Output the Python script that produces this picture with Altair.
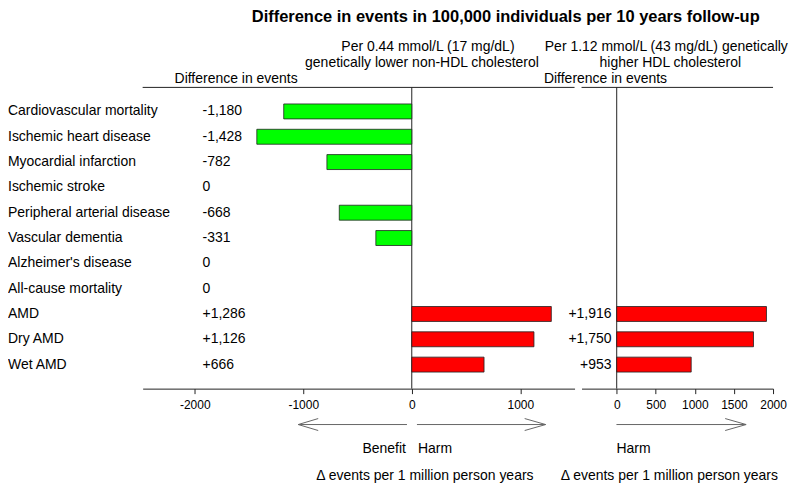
import altair as alt
import pandas as pd

labels = ["Cardiovascular mortality", "Ischemic heart disease", "Myocardial infarction",
          "Ischemic stroke", "Peripheral arterial disease", "Vascular dementia",
          "Alzheimer's disease", "All-cause mortality", "AMD", "Dry AMD", "Wet AMD"]
nonhdl = [-1180, -1428, -782, 0, -668, -331, 0, 0, 1286, 1126, 666]
hdl_labels = ["AMD", "Dry AMD", "Wet AMD"]
hdl = [1916, 1750, 953]
left_ticks = [-2000, -1000, 0, 1000]
right_ticks = [0, 500, 1000, 1500, 2000]

FONT = "Liberation Sans"
FS = 14
W1, W2, H = 433, 192, 302
LINE = "#222222"
ARROW = "#666666"

df1 = pd.DataFrame({"label": labels, "v": nonhdl})
df2 = pd.DataFrame({"label": hdl_labels, "v": hdl})

def yenc():
    return alt.Y("label:N", scale=alt.Scale(domain=labels, paddingInner=0.41, paddingOuter=0.654), axis=None)

def axis(vals):
    return alt.Axis(values=vals, labelExpr="'' + datum.value", title=None, grid=False, domainColor=LINE,
                    tickColor=LINE, tickSize=5, labelColor="black", labelFont=FONT,
                    labelFontSize=12, labelPadding=6, labelFlush=False)

def txt(text, x, y, align="center", size=FS, weight="normal"):
    return alt.Chart(alt.Data(values=[{}])).mark_text(
        text=text, align=align, baseline="middle", fontSize=size, font=FONT,
        fontWeight=weight, color="black").encode(x=alt.value(x), y=alt.value(y))

def seg(x1, y1, x2, y2, color=LINE):
    return alt.Chart(alt.Data(values=[{}])).mark_rule(color=color, strokeWidth=1).encode(
        x=alt.value(x1), y=alt.value(y1), x2=alt.value(x2), y2=alt.value(y2))

def arrow(xs, xe, y, head):
    d = head if xe > xs else -head
    return [seg(xs, y, xe, y, ARROW), seg(xe, y, xe - d, y - 6, ARROW), seg(xe, y, xe - d, y + 6, ARROW)]

fmt = "datum.v > 0 ? '+' + format(datum.v, ',') : (datum.v < 0 ? '-' + format(-datum.v, ',') : '0')"

# ---------- left panel ----------
xl = alt.X("v:Q", scale=alt.Scale(domain=[-2480, 1500], nice=False, zero=False), axis=axis(left_ticks))
base1 = alt.Chart(df1)
bars1 = base1.transform_filter("datum.v != 0").mark_bar(stroke=LINE, strokeWidth=0.8).encode(
    x=xl, x2=alt.datum(0), y=yenc(),
    color=alt.condition("datum.v < 0", alt.value("#00FF00"), alt.value("#FF0000")))
vals1 = base1.transform_calculate(t=fmt).mark_text(
    align="left", baseline="middle", font=FONT, fontSize=FS, color="black").encode(
    x=alt.value(60), y=yenc(), text="t:N")
labs1 = base1.mark_text(align="left", baseline="middle", font=FONT, fontSize=FS, color="black").encode(
    x=alt.value(-135), y=yenc(), text="label:N")
zero1 = alt.Chart(alt.Data(values=[{}])).mark_rule(color=LINE).encode(
    x=alt.datum(0), y=alt.value(0), y2=alt.value(H))
top1 = seg(0, 0, W1, 0)

left = alt.layer(
    top1, zero1, bars1, vals1, labs1,
    txt("Difference in events in 100,000 individuals per 10 years follow-up", 364, -71, size=16.5, weight="bold"),
    txt("Per 0.44 mmol/L (17 mg/dL)", 286, -41),
    txt("genetically lower non-HDL cholesterol", 280, -24),
    txt("Difference in events", 32, -8, align="left"),
    txt("Benefit", 264, 363, align="right"),
    txt("Harm", 276, 363, align="left"),
    txt("\u0394 events per 1 million person years", 283, 390),
    *arrow(265, 156, 338, 20),
    *arrow(275, 404, 338, 21),
).properties(width=W1, height=H)

# ---------- right panel ----------
xr = alt.X("v:Q", scale=alt.Scale(domain=[-450, 2000], nice=False, zero=False), axis=axis(right_ticks))
base2 = alt.Chart(df2)
bars2 = base2.mark_bar(color="#FF0000", stroke=LINE, strokeWidth=0.8).encode(
    x=xr, x2=alt.datum(0), y=yenc())
vals2 = base2.transform_calculate(t=fmt).mark_text(
    align="right", baseline="middle", font=FONT, fontSize=FS, color="black").encode(
    x=alt.value(30), y=yenc(), text="t:N")
zero2 = alt.Chart(alt.Data(values=[{}])).mark_rule(color=LINE).encode(
    x=alt.datum(0), y=alt.value(0), y2=alt.value(H))
top2 = seg(0, 0, W2, 0)

right = alt.layer(
    top2, zero2, bars2, vals2,
    txt("Per 1.12 mmol/L (43 mg/dL) genetically", 85, -41),
    txt("higher HDL cholesterol", 89, -24),
    txt("Difference in events", 24, -8),
    txt("Harm", 35, 363, align="left"),
    txt("\u0394 events per 1 million person years", 88, 390),
    *arrow(35, 165, 338, 21),
).properties(width=W2, height=H)

chart = alt.hconcat(left, right, spacing=7, bounds="flush").properties(
    padding=0, background="white").configure_view(strokeWidth=0, stroke="transparent")

chart.save("out.html", embed_options={"renderer": "svg", "actions": False})
